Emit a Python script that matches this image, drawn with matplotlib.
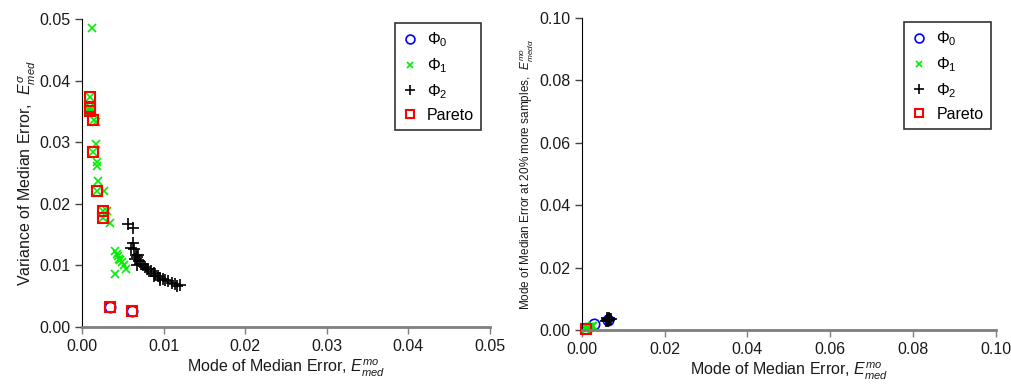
import matplotlib
matplotlib.use("Agg")
import matplotlib.pyplot as plt

plt.rcParams['font.family'] = ['Liberation Sans', 'DejaVu Sans']
plt.rcParams['mathtext.fontset'] = 'custom'
plt.rcParams['mathtext.rm'] = 'Liberation Sans'
plt.rcParams['mathtext.it'] = 'Liberation Sans:italic'
plt.rcParams['mathtext.bf'] = 'Liberation Sans:bold'

# ---- Left panel data: mode (x) vs variance (y) of median error ----
phi0_x = [0.0034, 0.0061]
phi0_y = [0.0032, 0.00255]

phi1_x = [0.0012, 0.0010, 0.0010, 0.0010, 0.0010, 0.0015, 0.0017, 0.0017, 0.0014,
          0.0018, 0.0018, 0.0020, 0.0018, 0.0027, 0.0026, 0.0031, 0.0026, 0.0034,
          0.0040, 0.0043, 0.0045, 0.0049, 0.0052, 0.0054, 0.0040, 0.0044, 0.0047]
phi1_y = [0.0485, 0.0374, 0.0358, 0.0355, 0.0351, 0.0336, 0.0333, 0.0297, 0.0284,
          0.0268, 0.0262, 0.0237, 0.0221, 0.0221, 0.0189, 0.0189, 0.0177, 0.0169,
          0.0124, 0.0118, 0.0111, 0.0105, 0.0100, 0.0094, 0.0086, 0.0115, 0.0108]

phi2_x = [0.0056, 0.0062, 0.0063, 0.0060, 0.0064, 0.0066, 0.0067, 0.0070, 0.0068,
          0.0075, 0.0077, 0.0081, 0.0085, 0.0088, 0.0090, 0.0093, 0.0096, 0.0099,
          0.0102, 0.0106, 0.0110, 0.0114, 0.0117, 0.0120, 0.0065, 0.0072, 0.0080,
          0.0088, 0.0069, 0.0095]
phi2_y = [0.0168, 0.0160, 0.0137, 0.0128, 0.0126, 0.0117, 0.0113, 0.0107, 0.0101,
          0.0100, 0.0098, 0.0094, 0.0091, 0.0088, 0.0086, 0.0083, 0.0080, 0.0078,
          0.0076, 0.0074, 0.0072, 0.0070, 0.0067, 0.0069, 0.0110, 0.0103, 0.0095,
          0.0083, 0.0117, 0.0077]

pareto_x = [0.0010, 0.0010, 0.0010, 0.0010, 0.0014, 0.0014, 0.0018, 0.0026, 0.0026,
            0.0034, 0.0061]
pareto_y = [0.0374, 0.0358, 0.0355, 0.0351, 0.0336, 0.0284, 0.0221, 0.0189, 0.0177,
            0.0032, 0.00255]

# ---- Right panel data: mode (x) vs mode at 20% more samples (y) ----
r_phi0_x = [0.0030, 0.0062]
r_phi0_y = [0.0019, 0.0033]

r_phi1_x = [0.0010, 0.0012, 0.0014, 0.0017, 0.0018, 0.0020, 0.0024, 0.0026, 0.0008]
r_phi1_y = [0.0003, 0.0005, 0.0008, 0.0006, 0.0010, 0.0009, 0.0012, 0.0013, 0.0002]

r_phi2_x = [0.0058, 0.0060, 0.0062, 0.0063, 0.0064, 0.0065, 0.0066, 0.0068, 0.0070, 0.0061]
r_phi2_y = [0.0028, 0.0031, 0.0034, 0.0036, 0.0030, 0.0038, 0.0033, 0.0035, 0.0034, 0.0037]

r_pareto_x = [0.0009]
r_pareto_y = [0.0003]

legend_labels = [r'$\Phi_0$', r'$\Phi_1$', r'$\Phi_2$', 'Pareto']

fig = plt.figure(figsize=(10.11, 3.84), dpi=100)
ax1 = fig.add_axes([0.0811, 0.1484, 0.4036, 0.802])
ax2 = fig.add_axes([0.5757, 0.1406, 0.4090, 0.8125])

TXT = '#1a1a1a'


def draw(ax, p0x, p0y, p1x, p1y, p2x, p2y, px, py, anchor):
    ax.plot(p0x, p0y, 'o', ls='none', mfc='none', mec='#0000ff', ms=7.5, mew=1.2,
            label=legend_labels[0])
    ax.plot(p1x, p1y, 'x', ls='none', color='#00ee00', ms=5.5, mew=1.2,
            label=legend_labels[1])
    ax.plot(p2x, p2y, '+', ls='none', color='black', ms=8.5, mew=1.2,
            label=legend_labels[2])
    ax.plot(px, py, 's', ls='none', mfc='none', mec='#ff0000', ms=6.5, mew=1.5,
            label=legend_labels[3])
    for s in ['top', 'right']:
        ax.spines[s].set_visible(False)
    ax.spines['left'].set_color('black')
    ax.spines['bottom'].set_color('#7f7f7f')
    ax.spines['bottom'].set_linewidth(2)
    ax.tick_params(axis='both', direction='out', labelsize=11.5)
    ax.tick_params(axis='x', colors='#7f7f7f', labelcolor=TXT, width=1, length=5)
    ax.tick_params(axis='y', colors='#444444', labelcolor=TXT, width=1, length=5)
    leg = ax.legend(loc='upper right', bbox_to_anchor=anchor, fontsize=11.5,
                    frameon=True, fancybox=False, edgecolor='black',
                    handletextpad=0.55, borderpad=0.45, labelspacing=0.45,
                    handlelength=1.0, markerscale=0.85, borderaxespad=0.0)
    leg.get_frame().set_linewidth(1.2)


draw(ax1, phi0_x, phi0_y, phi1_x, phi1_y, phi2_x, phi2_y, pareto_x, pareto_y,
     (0.978, 0.987))
ax1.set_xlim(0, 0.05)
ax1.set_ylim(0, 0.05)
ax1.set_xticks([0.0, 0.01, 0.02, 0.03, 0.04, 0.05])
ax1.set_xticklabels(['0.00', '0.01', '0.02', '0.03', '0.04', '0.05'])
ax1.set_yticks([0.0, 0.01, 0.02, 0.03, 0.04, 0.05])
ax1.set_yticklabels(['0.00', '0.01', '0.02', '0.03', '0.04', '0.05'])
ax1.set_xlabel(r'Mode of Median Error, $E^{mo}_{med}$', fontsize=11.5, color=TXT,
               labelpad=3)
ax1.set_ylabel(r'Variance of Median Error,  $E^{\sigma}_{med}$', fontsize=11.5,
               color=TXT, labelpad=1)

draw(ax2, r_phi0_x, r_phi0_y, r_phi1_x, r_phi1_y, r_phi2_x, r_phi2_y,
     r_pareto_x, r_pareto_y, (0.988, 0.987))
ax2.set_xlim(0, 0.1)
ax2.set_ylim(0, 0.1)
ax2.set_xticks([0.0, 0.02, 0.04, 0.06, 0.08, 0.10])
ax2.set_xticklabels(['0.00', '0.02', '0.04', '0.06', '0.08', '0.10'])
ax2.set_yticks([0.0, 0.02, 0.04, 0.06, 0.08, 0.10])
ax2.set_yticklabels(['0.00', '0.02', '0.04', '0.06', '0.08', '0.10'])
ax2.set_xlabel(r'Mode of Median Error, $E^{mo}_{med}$', fontsize=11.5, color=TXT,
               labelpad=3)
ax2.set_ylabel(r'Mode of Median Error at 20% more samples,  $E^{mo}_{med\alpha}$',
               fontsize=8.5, color=TXT, labelpad=2)

for ax in (ax1, ax2):
    ax.patch.set_visible(False)
    for line in ax.lines:
        line.set_clip_on(False)

fig.savefig('out.png', dpi=100)
